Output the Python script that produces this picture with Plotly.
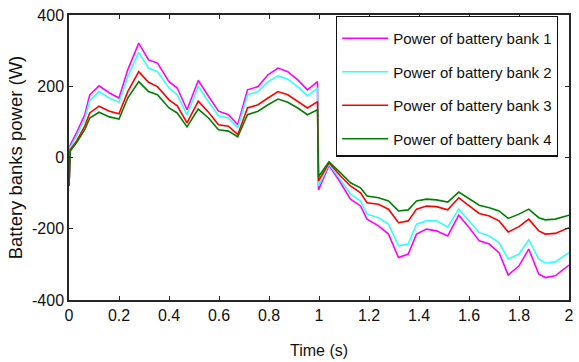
import plotly.graph_objects as go

time_s = [0, 0.005, 0.03, 0.063, 0.083, 0.12, 0.162, 0.2, 0.235, 0.279,
          0.318, 0.354, 0.4, 0.433, 0.472, 0.517, 0.558, 0.598, 0.638, 0.675,
          0.714, 0.756, 0.796, 0.836, 0.875, 0.915, 0.954, 0.994, 0.998, 1.04,
          1.086, 1.126, 1.166, 1.192, 1.238, 1.278, 1.318, 1.357, 1.39, 1.43,
          1.47, 1.515, 1.559, 1.601, 1.641, 1.681, 1.72, 1.757, 1.8, 1.839,
          1.879, 1.905, 1.945, 2.0]

bank1 = [-80, 35, 69, 120, 176, 201, 181, 167, 246, 321,
         274, 265, 213, 195, 134, 216, 172, 130, 120, 92,
         190, 199, 232, 251, 241, 218, 190, 213, -91, -22,
         -71, -117, -136, -173, -192, -215, -281, -271, -215, -201,
         -206, -220, -162, -197, -234, -243, -267, -330, -304, -257,
         -327, -337, -332, -302]

bank2 = [-80, 28, 60, 108, 160, 185, 167, 155, 227, 295,
         251, 241, 195, 176, 120, 200, 157, 117, 111, 83,
         176, 185, 213, 229, 220, 199, 173, 195, -80, -18,
         -62, -103, -122, -159, -169, -187, -248, -243, -187, -178,
         -178, -195, -145, -178, -211, -220, -239, -285, -271, -231,
         -285, -296, -293, -267]

bank3 = [-80, 22, 46, 88, 125, 144, 130, 123, 185, 241,
         211, 199, 162, 145, 97, 158, 127, 92, 88, 64,
         139, 148, 167, 185, 176, 157, 139, 157, -66, -15,
         -52, -80, -99, -127, -131, -145, -183, -178, -145, -136,
         -138, -147, -113, -136, -157, -164, -178, -209, -194, -173,
         -206, -215, -213, -197]

bank4 = [-80, 18, 41, 78, 111, 127, 114, 108, 167, 213,
         185, 176, 139, 125, 86, 136, 111, 78, 74, 58,
         120, 130, 148, 164, 155, 139, 120, 134, -54, -12,
         -43, -71, -85, -108, -113, -122, -150, -147, -122, -117,
         -119, -125, -97, -117, -134, -141, -150, -171, -159, -145,
         -169, -175, -173, -162]

names = ["Power of battery bank 1", "Power of battery bank 2",
         "Power of battery bank 3", "Power of battery bank 4"]
colors = ["#ff00ff", "#33ffff", "#ff0000", "#008000"]

x_ticks = [0, 0.2, 0.4, 0.6, 0.8, 1, 1.2, 1.4, 1.6, 1.8, 2]
x_tick_text = ["0", "0.2", "0.4", "0.6", "0.8", "1", "1.2", "1.4", "1.6", "1.8", "2"]
y_ticks = [-400, -200, 0, 200, 400]
y_tick_text = ["-400", "-200", "0", "200", "400"]

fig = go.Figure()
for i, (vals, nm, col) in enumerate(zip([bank1, bank2, bank3, bank4], names, colors)):
    fig.add_trace(go.Scatter(x=time_s, y=vals, mode="lines", name=nm,
                             legendgroup=f"g{i}",
                             line=dict(color=col, width=1.6)))

font_main = "Liberation Sans, Arial, sans-serif"
axis_common = dict(showline=True, linecolor="#262626", linewidth=1.5, mirror="allticks",
                   ticks="inside", ticklen=4, tickcolor="#262626", showgrid=False,
                   zeroline=False, tickfont=dict(family=font_main, size=16, color="#111"))

fig.update_layout(
    width=579, height=362,
    margin=dict(l=69, r=5, t=15, b=61),
    paper_bgcolor="white", plot_bgcolor="white",
    showlegend=True,
    legend=dict(x=0.978, y=0.998, xanchor="right", yanchor="top",
                bgcolor="white", bordercolor="#111", borderwidth=1.2,
                font=dict(family=font_main, size=15, color="#111"),
                title=dict(text=" ", font=dict(size=4)),
                tracegroupgap=11, itemwidth=46),
    xaxis=dict(range=[0, 2], tickvals=x_ticks, ticktext=x_tick_text,
               title=dict(text="Time (s)", font=dict(family=font_main, size=16, color="#111"),
                          standoff=22),
               **axis_common),
    yaxis=dict(range=[-400, 400], tickvals=y_ticks, ticktext=y_tick_text,
               title=dict(text="Battery banks power (W)",
                          font=dict(family=font_main, size=18.5, color="#111"),
                          standoff=5),
               **axis_common),
)

fig.write_html("out.html")
